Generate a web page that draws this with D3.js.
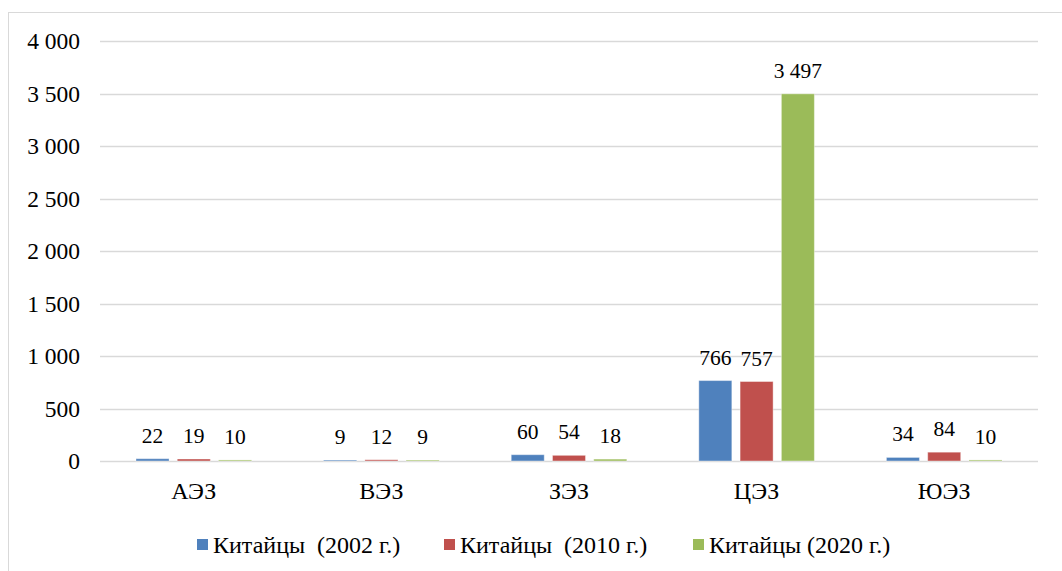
<!DOCTYPE html>
<html>
<head>
<meta charset="utf-8">
<script src="https://cdn.jsdelivr.net/npm/d3@7"></script>
<style>
  body { margin: 0; background: #fff; }
</style>
</head>
<body>
<div id="chart"></div>
<script>
// Data
const categories = ['АЭЗ', 'ВЭЗ', 'ЗЭЗ', 'ЦЭЗ', 'ЮЭЗ'];
const seriesNames = ['Китайцы  (2002 г.)', 'Китайцы  (2010 г.)', 'Китайцы (2020 г.)'];
const values2002 = [22, 9, 60, 766, 34];
const values2010 = [19, 12, 54, 757, 84];
const values2020 = [10, 9, 18, 3497, 10];
const yTicks = [0, 500, 1000, 1500, 2000, 2500, 3000, 3500, 4000];

const seriesValues = [values2002, values2010, values2020];
const colors = ['#4F81BD', '#C0504D', '#9BBB59'];

const width = 1062, height = 571;
const plot = { left: 100, right: 1038, top: 41, bottom: 461 };
const serif = "'Liberation Serif'";

const svg = d3.select('#chart').append('svg')
    .attr('width', width)
    .attr('height', height);

// outer chart border
svg.append('rect')
    .attr('x', 8.5)
    .attr('y', 12.5)
    .attr('width', width)
    .attr('height', height)
    .attr('fill', 'none')
    .attr('stroke', '#d9d9d9')
    .attr('stroke-width', 1);

const x0 = d3.scaleBand()
    .domain(categories)
    .range([plot.left, plot.right]);

const y = d3.scaleLinear()
    .domain([0, 4000])
    .range([plot.bottom, plot.top]);

// bars ~ 33px wide with 8px gaps inside each category
const barW = x0.bandwidth() * 0.176;
const groupW = barW * 3 + barW * 0.25 * 2;
const x1 = d3.scaleBand()
    .domain(d3.range(seriesNames.length))
    .range([0, groupW])
    .paddingInner(0.2);

// gridlines
svg.append('g')
    .selectAll('line')
    .data(yTicks)
    .join('line')
    .attr('x1', plot.left)
    .attr('x2', plot.right)
    .attr('y1', d => Math.round(y(d)) + 0.5)
    .attr('y2', d => Math.round(y(d)) + 0.5)
    .attr('stroke', '#d9d9d9')
    .attr('stroke-width', 1.5);

// y axis labels
const fmt = v => d3.format(',')(v).replace(/,/g, ' ');
svg.append('g')
    .selectAll('text')
    .data(yTicks)
    .join('text')
    .attr('x', 80)
    .attr('y', d => y(d))
    .attr('dy', '0.35em')
    .attr('text-anchor', 'end')
    .style('font-family', serif)
    .style('font-size', '23.5px')
    .text(d => fmt(d));

// bars
const rows = categories.map((c, i) => ({ cat: c, vals: seriesValues.map(s => s[i]) }));

const groups = svg.append('g')
    .selectAll('g')
    .data(rows)
    .join('g')
    .attr('transform', d => `translate(${x0(d.cat) + (x0.bandwidth() - groupW) / 2},0)`);

groups.selectAll('rect')
    .data(d => d.vals.map((v, k) => ({ v, k })))
    .join('rect')
    .attr('x', d => x1(d.k))
    .attr('y', d => y(d.v))
    .attr('width', x1.bandwidth())
    .attr('height', d => y(0) - y(d.v))
    .attr('fill', d => colors[d.k])
    .attr('stroke', '#fff')
    .attr('stroke-opacity', 0.4)
    .attr('stroke-width', 1);

groups.selectAll('text')
    .data(d => d.vals.map((v, k) => ({ v, k })))
    .join('text')
    .attr('x', d => x1(d.k) + x1.bandwidth() / 2)
    .attr('y', d => y(d.v) - 16)
    .attr('text-anchor', 'middle')
    .style('font-family', serif)
    .style('font-size', '21.5px')
    .text(d => fmt(d.v));

// category labels
svg.append('g')
    .selectAll('text')
    .data(categories)
    .join('text')
    .attr('x', d => x0(d) + x0.bandwidth() / 2)
    .attr('y', 499)
    .attr('text-anchor', 'middle')
    .style('font-family', serif)
    .style('font-size', '24px')
    .text(d => d);

// legend
const legendX = [197, 444, 693];
const legend = svg.append('g');
seriesNames.forEach((name, i) => {
    const item = legend.append('g')
        .attr('transform', `translate(${legendX[i]}, 545)`);
    item.append('rect')
        .attr('x', 0)
        .attr('y', -6)
        .attr('width', 11)
        .attr('height', 11)
        .attr('fill', colors[i]);
    item.append('text')
        .attr('x', 16)
        .attr('y', 0)
        .attr('dy', '0.35em')
        .style('font-family', serif)
        .style('font-size', '24px')
        .style('white-space', 'pre')
        .text(name);
});
</script>
</body>
</html>
